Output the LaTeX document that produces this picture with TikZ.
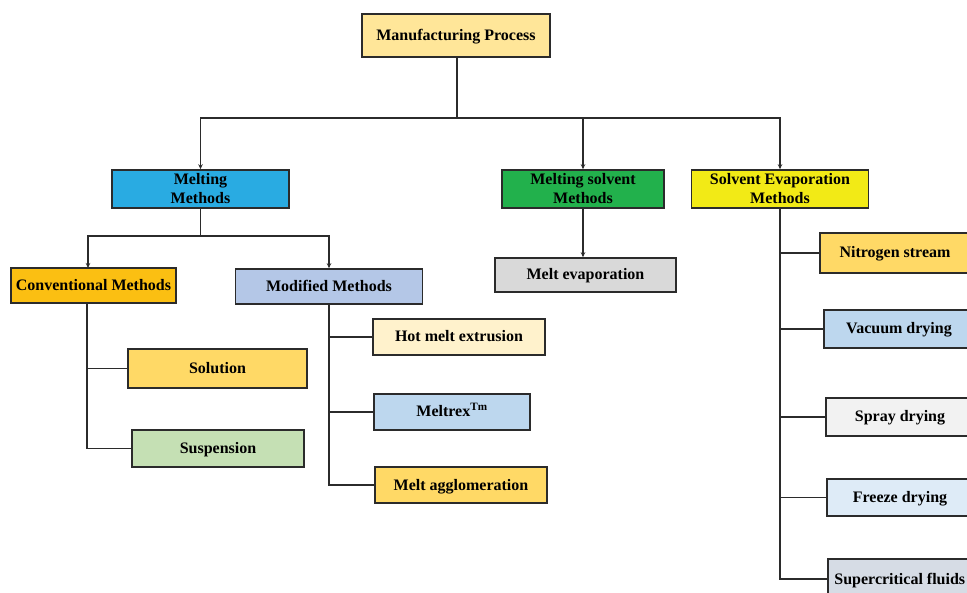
\documentclass[tikz,border=0pt]{standalone}
\usepackage{fontspec}
\setmainfont{Liberation Serif}
\usetikzlibrary{arrows.meta}
\definecolor{cMP}{HTML}{FFE699}
\definecolor{cMM}{HTML}{29ABE2}
\definecolor{cMS}{HTML}{22B14C}
\definecolor{cSE}{HTML}{F2EA16}
\definecolor{cCM}{HTML}{FBBF12}
\definecolor{cMod}{HTML}{B4C7E7}
\definecolor{cGold}{HTML}{FFD966}
\definecolor{cSus}{HTML}{C5E0B4}
\definecolor{cHME}{HTML}{FFF2CC}
\definecolor{cBlue}{HTML}{BDD7EE}
\definecolor{cGray}{HTML}{D9D9D9}
\definecolor{cSpray}{HTML}{F2F2F2}
\definecolor{cFreeze}{HTML}{DEEBF7}
\definecolor{cSuper}{HTML}{D6DCE5}
\definecolor{lineC}{HTML}{2B2B2B}
\tikzset{
  basebox/.style={draw=lineC, line width=1.6pt, inner sep=0pt, align=center,
    font=\fontsize{16}{19}\selectfont\bfseries},
  box/.style={basebox, text height=11.5pt, text depth=1.5pt},
  box2/.style={basebox},
  conn/.style={draw=lineC, line width=1.7pt},
  arr/.style={conn, -{Stealth[length=5pt,width=4.5pt]}}
}
\begin{document}
\begin{tikzpicture}[x=1pt,y=-1pt]
\useasboundingbox (0,0) rectangle (967,593);
\clip (0,0) rectangle (967,593);
% level 0
\node[box, fill=cMP, minimum width=188pt, minimum height=43pt] (mp) at (456,35.5) {Manufacturing Process};
% level 1
\node[box2, fill=cMM, minimum width=177pt, minimum height=38pt] (mm) at (200.5,189) {Melting\\Methods};
\node[box2, fill=cMS, minimum width=162pt, minimum height=38pt] (ms) at (583,189) {Melting solvent\\Methods};
\node[box2, fill=cSE, minimum width=177pt, minimum height=38pt] (se) at (780,189) {Solvent Evaporation\\Methods};
% level 2
\node[box, fill=cCM, minimum width=165pt, minimum height=35pt] (cm) at (93.5,285.5) {Conventional Methods};
\node[box, fill=cMod, minimum width=187pt, minimum height=35pt] (mod) at (329,286.5) {Modified Methods};
\node[box, fill=cGray, minimum width=181pt, minimum height=34pt] (mev) at (585.5,275) {Melt evaporation};
% conventional children
\node[box, fill=cGold, minimum width=179pt, minimum height=39pt] (sol) at (217.5,368.5) {Solution};
\node[box, fill=cSus, minimum width=172pt, minimum height=37pt] (sus) at (218,448.5) {Suspension};
% modified children
\node[box, fill=cHME, minimum width=172pt, minimum height=36pt] (hme) at (459,337) {Hot melt extrusion};
\node[box, fill=cBlue, minimum width=156pt, minimum height=36pt] (mtx) at (452,412) {Meltrex\textsuperscript{Tm}};
\node[box, fill=cGold, minimum width=172pt, minimum height=36pt] (mag) at (461,485) {Melt agglomeration};
% solvent evaporation children
\node[box, fill=cGold, minimum width=150pt, minimum height=40pt] (ns) at (895,253) {Nitrogen stream};
\node[box, fill=cBlue, minimum width=150pt, minimum height=38pt] (vd) at (899,329) {Vacuum drying};
\node[box, fill=cSpray, minimum width=148pt, minimum height=38pt] (sd) at (900,417) {Spray drying};
\node[box, fill=cFreeze, minimum width=146pt, minimum height=37pt] (fd) at (900,497.5) {Freeze drying};
\node[box, fill=cSuper, minimum width=150pt, minimum height=40pt, anchor=west] (sc) at (827,579) {\hspace{4pt}Supercritical fluids\hspace{10pt}};
% connectors level 0 -> 1
\coordinate (bus) at (457,118);
\draw[conn] (mp.south -| bus) -- (bus);
\draw[arr] (bus) -| (mm.north);
\draw[arr] (bus) -| (se.north);
\draw[arr] (ms.north |- bus) -- (ms.north);
% melting methods -> level 2
\coordinate (cmtop) at (88,268);
\draw[arr] (mm.south) -- ++(0,27) -| (cmtop);
\draw[arr] (mm.south) -- ++(0,27) -| (mod.north);
\draw[arr] (ms.south) -- (ms.south |- mev.north);
% conventional children
\coordinate (cmv) at (87,303);
\draw[conn] (cmv) |- (sol.west);
\draw[conn] (cmv) |- (sus.west);
% modified children
\draw[conn] (mod.south) |- (hme.west);
\draw[conn] (mod.south) |- (mtx.west);
\draw[conn] (mod.south) |- (mag.west);
% solvent evaporation children
\draw[conn] (se.south) |- (ns.west);
\draw[conn] (se.south) |- (vd.west);
\draw[conn] (se.south) |- (sd.west);
\draw[conn] (se.south) |- (fd.west);
\draw[conn] (se.south) |- (sc.west);
\end{tikzpicture}
\end{document}
